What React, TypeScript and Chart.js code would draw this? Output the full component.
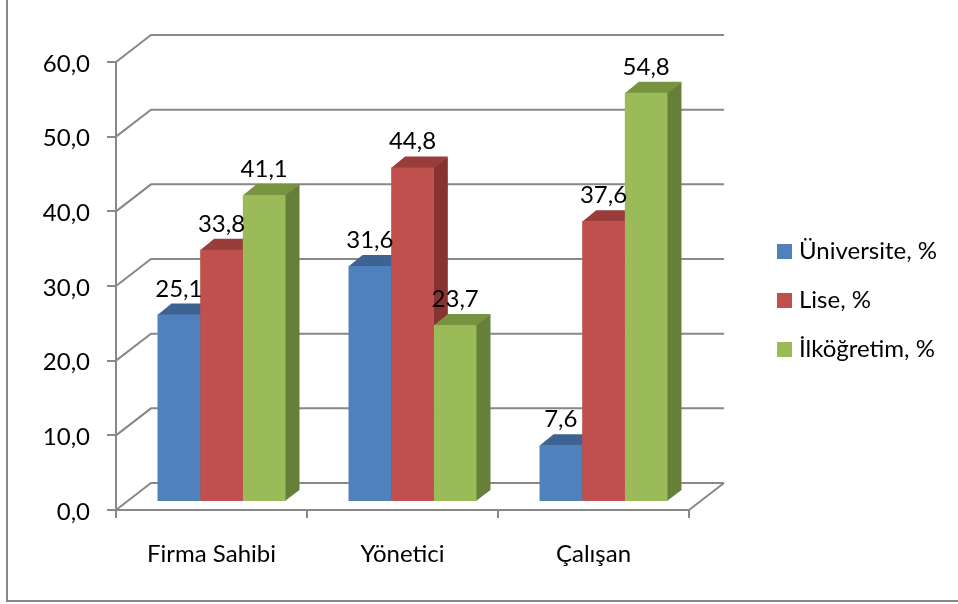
import React, { useEffect, useRef } from 'react';
import { Chart, registerables } from 'chart.js';

Chart.register(...registerables);

// ---- data ----
const categories = ['Firma Sahibi', 'Yönetici', 'Çalışan'];
const seriesNames = ['Üniversite, %', 'Lise, %', 'İlköğretim, %'];
const universite = [25.1, 31.6, 7.6];
const lise = [33.8, 44.8, 37.6];
const ilkogretim = [41.1, 23.7, 54.8];
const yTicks = [0, 10, 20, 30, 40, 50, 60];

// ---- styles ----
const frontColors = ['#4F81BD', '#C0504D', '#9BBB59'];
const topColors = ['#3C6391', '#983D3A', '#78933F'];
const sideColors = ['#385C88', '#863332', '#66803A'];
const GRID = '#888888';
const FONT = 'Lato, "Open Sans", sans-serif';
const FONT_SIZE = 24;

const WALL = { dx: 35, dy: -27 };
const BAR_OFF = { dx: 10, dy: -8 };
const BAR_DEPTH = { dx: 14, dy: -11 };

const fmt = (v: number) => Number(v).toFixed(1).replace('.', ',');

const threeD = {
  id: 'threeD',
  beforeDraw(chart: any) {
    const ctx = chart.ctx;
    ctx.save();
    ctx.strokeStyle = '#868686';
    ctx.lineWidth = 2;
    ctx.strokeRect(7, -20, 1000, 621);
    ctx.restore();
  },
  beforeDatasetsDraw(chart: any) {
    const ctx = chart.ctx;
    const a = chart.chartArea;
    const y = chart.scales.y;
    ctx.save();
    ctx.strokeStyle = GRID;
    ctx.lineWidth = 2;
    ctx.beginPath();
    for (const v of yTicks) {
      const py = y.getPixelForValue(v);
      ctx.moveTo(a.left, py);
      ctx.lineTo(a.left + WALL.dx, py + WALL.dy);
      ctx.lineTo(a.right + WALL.dx, py + WALL.dy);
    }
    const pb = y.getPixelForValue(0);
    ctx.moveTo(a.right, pb);
    ctx.lineTo(a.right + WALL.dx, pb + WALL.dy);
    ctx.stroke();
    ctx.restore();

    ctx.save();
    ctx.translate(BAR_OFF.dx, BAR_OFF.dy);
    chart.data.datasets.forEach((_ds: any, i: number) => {
      const meta = chart.getDatasetMeta(i);
      meta.data.forEach((bar: any) => {
        const p = bar.getProps(['x', 'y', 'base', 'width'], true);
        const l = p.x - p.width / 2;
        const r = p.x + p.width / 2;
        const top = p.y;
        const base = p.base;
        ctx.fillStyle = sideColors[i];
        ctx.beginPath();
        ctx.moveTo(r - 0.5, top);
        ctx.lineTo(r + BAR_DEPTH.dx, top + BAR_DEPTH.dy);
        ctx.lineTo(r + BAR_DEPTH.dx, base + BAR_DEPTH.dy);
        ctx.lineTo(r - 0.5, base);
        ctx.closePath();
        ctx.fill();
        ctx.fillStyle = topColors[i];
        ctx.beginPath();
        ctx.moveTo(l, top + 0.5);
        ctx.lineTo(l + BAR_DEPTH.dx, top + BAR_DEPTH.dy);
        ctx.lineTo(r + BAR_DEPTH.dx, top + BAR_DEPTH.dy);
        ctx.lineTo(r, top + 0.5);
        ctx.closePath();
        ctx.fill();
      });
    });
  },
  afterDatasetsDraw(chart: any) {
    const ctx = chart.ctx;
    ctx.font = `${FONT_SIZE}px ${FONT}`;
    ctx.fillStyle = '#000';
    ctx.textAlign = 'center';
    ctx.textBaseline = 'alphabetic';
    chart.data.datasets.forEach((ds: any, i: number) => {
      const meta = chart.getDatasetMeta(i);
      meta.data.forEach((bar: any, j: number) => {
        const p = bar.getProps(['x', 'y'], true);
        ctx.fillText(fmt(ds.data[j]), p.x, p.y - 18);
      });
    });
    ctx.restore();
  },
  afterDraw(chart: any) {
    const ctx = chart.ctx;
    ctx.save();
    ctx.font = `${FONT_SIZE}px ${FONT}`;
    ctx.textAlign = 'left';
    ctx.textBaseline = 'middle';
    chart.data.datasets.forEach((ds: any, i: number) => {
      const cy = 251.5 + i * 49;
      ctx.fillStyle = frontColors[i];
      ctx.fillRect(777, cy - 7.5, 15, 15);
      ctx.fillStyle = '#000';
      ctx.fillText(ds.label, 799, cy);
    });
    ctx.restore();
  },
};

export default function App() {
  const ref = useRef<HTMLCanvasElement>(null);
  useEffect(() => {
    if (!ref.current) return;
    const font = { family: FONT, size: FONT_SIZE };
    const chart = new Chart(ref.current, {
      type: 'bar',
      data: {
        labels: categories,
        datasets: [universite, lise, ilkogretim].map((d, i) => ({
          label: seriesNames[i],
          data: d,
          backgroundColor: frontColors[i],
          borderWidth: 0,
          categoryPercentage: 0.67,
          barPercentage: 1.0,
        })),
      },
      options: {
        responsive: false,
        animation: false,
        devicePixelRatio: 1,
        layout: { padding: { left: 0, top: 62, right: 269, bottom: 0 } },
        plugins: { legend: { display: false }, tooltip: { enabled: false } },
        scales: {
          x: {
            grid: { display: true, drawOnChartArea: false, drawTicks: true, tickLength: 8, color: GRID, lineWidth: 2, offset: true },
            border: { display: true, color: GRID, width: 2 },
            ticks: { font, color: '#000', padding: 22 },
            afterFit: (s: any) => { s.height = 94; },
          },
          y: {
            min: 0,
            max: 60,
            ticks: { stepSize: 10, font, color: '#000', padding: 17, labelOffset: 2, callback: (v: any) => fmt(v) },
            grid: { drawOnChartArea: false, drawTicks: true, tickLength: 9, color: GRID, lineWidth: 2 },
            border: { display: true, color: GRID, width: 2 },
            afterFit: (s: any) => { s.width = 116; },
          },
        },
      },
      plugins: [threeD],
    } as any);
    return () => chart.destroy();
  }, []);
  return (
    <div style={{ width: 958, height: 604 }}>
      <style>{'body{margin:0}'}</style>
      <canvas ref={ref} width={958} height={604} style={{ display: 'block' }} />
    </div>
  );
}
